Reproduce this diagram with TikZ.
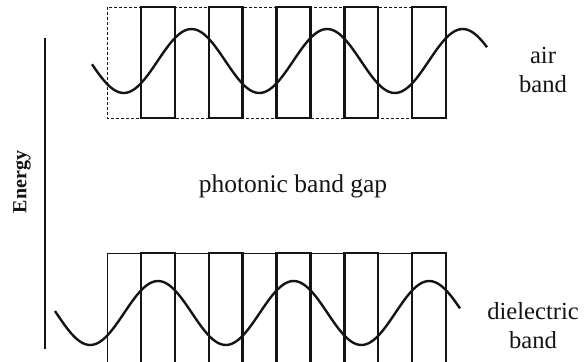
\documentclass[tikz,border=0pt]{standalone}
\usepackage{fontspec}
\setmainfont{Liberation Serif}
\usetikzlibrary{positioning}
\definecolor{inkBlack}{RGB}{20, 20, 20}

\tikzset{
  thinline/.style={draw=inkBlack, line width=0.9pt},
  slab/.style={draw=inkBlack, line width=2.4pt},
  wave/.style={draw=inkBlack, line width=2.4pt},
  lbl/.style={text=inkBlack, font=\fontsize{24.6}{29}\selectfont, align=center, inner sep=0pt}
}

\begin{document}
\begin{tikzpicture}[x=1pt, y=-1pt]
  \useasboundingbox (0,0) rectangle (585,361);

  % air band (top)
  \draw[thinline, densely dashed] (107,7) rectangle (446,118);
  \foreach \i in {1,3,5,7,9}
    \draw[slab] ({107+33.9*\i},7) rectangle ({107+33.9*(\i+1)},118);
  \draw[wave] plot[domain=92:487, samples=150, smooth]
    (\x, {61 - 32*cos(2.6549*(\x-191.5))});

  % dielectric band (bottom)
  \draw[thinline] (107,366) -- (107,253) -- (446,253) -- (446,366);
  \foreach \i in {2,4,6,8}
    \draw[thinline] ({107+33.9*\i},253) -- ({107+33.9*\i},366);
  \foreach \i in {1,3,5,7,9}
    \draw[slab] ({107+33.9*\i},366) -- ({107+33.9*\i},253)
      -- ({107+33.9*(\i+1)},253) -- ({107+33.9*(\i+1)},366);
  \draw[wave] plot[domain=55:460, samples=150, smooth]
    (\x, {313 - 32*cos(2.6549*(\x-158))});

  % energy axis
  \coordinate (etop) at (45,38);
  \coordinate (ebot) at (45,349);
  \draw[inkBlack, line width=1.6pt] (etop) -- (ebot);
  \node[lbl, font=\fontsize{20}{24}\selectfont\bfseries, rotate=90] (energy) at (22,182) {Energy};

  % labels
  \node[lbl, font=\fontsize{25.5}{29}\selectfont] (gap) at (293,186) {photonic band gap};
  \node[lbl] (air) at (543,70) {air\\band};
  \node[lbl] (diel) at (533,326) {dielectric\\band};
\end{tikzpicture}
\end{document}
